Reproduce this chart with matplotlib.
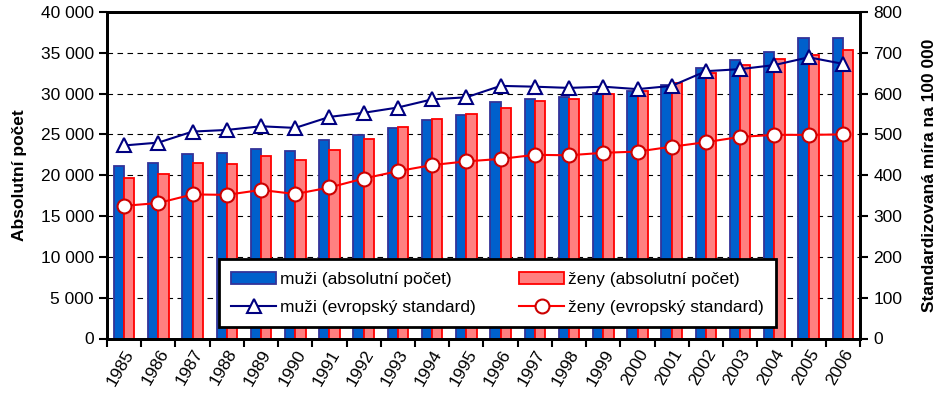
import numpy as np
import matplotlib
matplotlib.use('Agg')
import matplotlib.pyplot as plt
import matplotlib.transforms as mtransforms
from matplotlib.ticker import FuncFormatter, MultipleLocator

plt.rcParams['font.family'] = ['Liberation Sans', 'DejaVu Sans']

# data
years = [str(y) for y in range(1985, 2007)]
muzi_abs = [21100, 21450, 22600, 22700, 23200, 22950, 24300, 24950, 25800, 26750, 27350, 28950,
            29400, 29550, 30100, 30300, 31050, 33100, 34100, 35150, 36850, 36800]
zeny_abs = [19650, 20150, 21450, 21350, 22300, 21850, 23050, 24400, 25850, 26900, 27450, 28200,
            29050, 29300, 30000, 30350, 31300, 32500, 33450, 34300, 34700, 35300]
muzi_std = [473, 480, 507, 511, 520, 516, 543, 553, 566, 586, 591, 619,
            617, 614, 617, 611, 619, 655, 660, 670, 689, 673]
zeny_std = [325, 332, 353, 352, 364, 354, 370, 392, 410, 425, 434, 440,
            450, 449, 455, 458, 470, 481, 494, 499, 499, 500]

x = np.arange(len(years))

fig = plt.figure(figsize=(9.51, 4.03), dpi=100, facecolor='white')
ax = fig.add_axes([107 / 951, 1 - 338.5 / 403, (860 - 107) / 951, 326.5 / 403])
ax2 = ax.twinx()

w = 0.3
b1 = ax.bar(x - w / 2, muzi_abs, w, color='#0060CC', edgecolor='#333399', linewidth=1.3,
            label='muži (absolutní počet)', zorder=2)
b2 = ax.bar(x + w / 2, zeny_abs, w, color='#FF8080', edgecolor='#FF0000', linewidth=1.3,
            label='ženy (absolutní počet)', zorder=2)

l1, = ax2.plot(x, muzi_std, color='#000080', lw=1.5, marker='^', ms=10,
               mfc='white', mec='#000080', mew=1.5, label='muži (evropský standard)')
l2, = ax2.plot(x, zeny_std, color='#FF0000', lw=1.5, marker='o', ms=10,
               mfc='white', mec='#CC0000', mew=1.5, label='ženy (evropský standard)')

ax.set_xlim(-0.5, len(years) - 0.5)
ax.set_ylim(0, 40000)
ax2.set_ylim(0, 800)
ax.yaxis.set_major_locator(MultipleLocator(5000))
ax2.yaxis.set_major_locator(MultipleLocator(100))
ax.yaxis.set_major_formatter(FuncFormatter(lambda v, _: f'{int(v):,}'.replace(',', ' ')))

for v in range(5000, 40000, 5000):
    ax.axhline(v, color='black', lw=0.8, ls=(0, (5, 4)), zorder=1)

# category ticks between bars, labels at centres
ax.set_xticks(np.arange(-0.5, len(years) + 0.5, 1))
ax.set_xticklabels([])
ax.set_xticks(x, minor=True)
ax.set_xticklabels(years, minor=True, rotation=60, ha='right', va='top',
                   rotation_mode='anchor', fontsize=12.5)
shift = mtransforms.ScaledTranslation(-4 / 100, 0, fig.dpi_scale_trans)
for lbl in ax.get_xticklabels(minor=True):
    lbl.set_transform(lbl.get_transform() + shift)
ax.tick_params(axis='x', which='minor', length=0, pad=6)
ax.tick_params(axis='x', which='major', length=6, width=1.5, direction='out')
ax.tick_params(axis='y', length=6, width=1.5, labelsize=12.5, direction='out')
ax2.tick_params(axis='y', length=6, width=1.5, labelsize=12.5, direction='out')

for a in (ax, ax2):
    for s in a.spines.values():
        s.set_linewidth(2)
        s.set_color('black')

ax.set_ylabel('Absolutní počet', fontsize=12.5, fontweight='bold', labelpad=10)
ax2.set_ylabel('Standardizovaná míra na 100 000', fontsize=12.5, fontweight='bold', labelpad=14)

ax2.set_zorder(ax.get_zorder() + 1)
ax2.patch.set_visible(False)

leg = ax2.legend(handles=[b1, l1, b2, l2], ncol=2, loc='lower left',
                 bbox_to_anchor=(0.149, 0.035, 0.739, 0.236), mode='expand',
                 fontsize=12.5, frameon=True, fancybox=False, edgecolor='black',
                 framealpha=1, handlelength=2.6, handletextpad=0.2, columnspacing=1.0,
                 borderaxespad=0, borderpad=0.7, labelspacing=0.75)
leg.get_frame().set_linewidth(2)

fig.savefig('out.png', dpi=100, facecolor='white')
